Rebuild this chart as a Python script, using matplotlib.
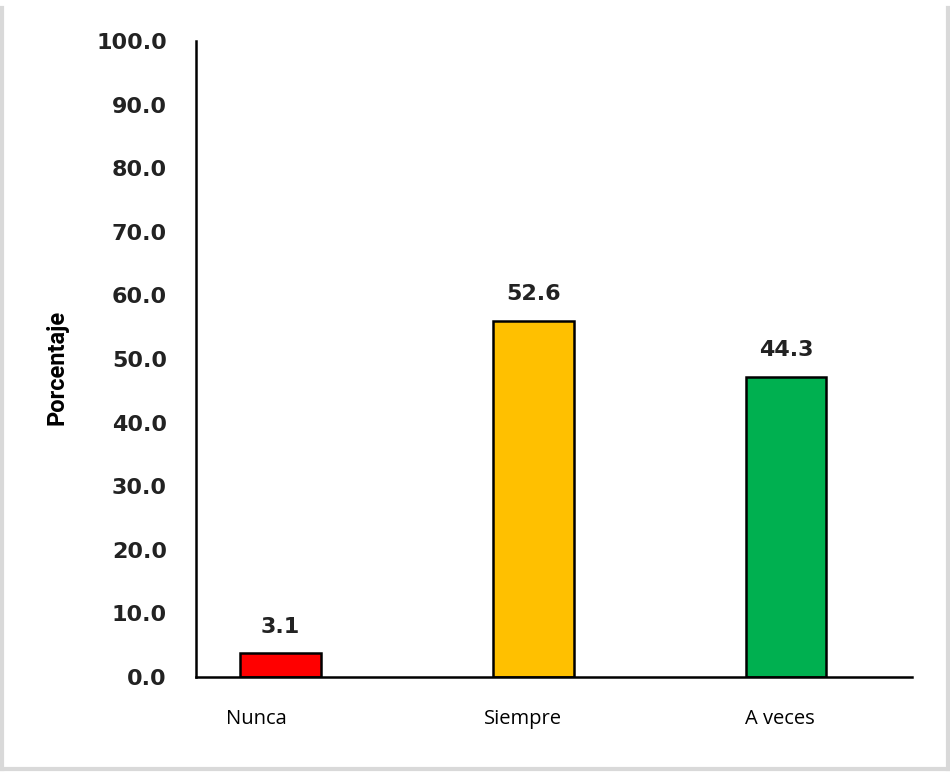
import matplotlib.pyplot as plt
from matplotlib.lines import Line2D

# datos del grafico
categorias = ['Nunca', 'Siempre', 'A veces']
porcentajes = ['3.1', '52.6', '44.3']        # etiquetas mostradas
alturas = [3.7, 56.0, 47.2]                  # altura de las barras
colores = ['#FF0000', '#FFC000', '#00B050']
marcas_y = [0, 10, 20, 30, 40, 50, 60, 70, 80, 90, 100]
desplaz_etiq = [-0.097, -0.04, -0.024]       # las etiquetas del eje x no estan centradas

fig = plt.figure(figsize=(9.5, 7.73), dpi=100)
ax = fig.add_axes([0.2063, 0.1242, 0.7537, 0.8228])

x = list(range(len(categorias)))
barras = ax.bar(x, alturas, width=0.32, color=colores, edgecolor='black', linewidth=1.8)

for b, txt in zip(barras, porcentajes):
    ax.annotate(txt, (b.get_x() + b.get_width() / 2, b.get_height()),
                xytext=(0, 19), textcoords='offset points', ha='center', va='center',
                fontsize=16, fontweight='bold', color='#222222')

ax.set_xlim(-0.335, 2.499)
ax.set_ylim(0, 100)
ax.set_yticks(marcas_y)
ax.set_yticklabels([f'{v:.1f}' for v in marcas_y], fontsize=16, fontweight='bold', color='#222222')
ax.set_xticks([i + d for i, d in zip(x, desplaz_etiq)])
ax.set_xticklabels(categorias, fontsize=14.5, family='Open Sans')
ax.tick_params(axis='y', length=0, pad=21)
ax.tick_params(axis='x', length=0, pad=23)

ax.set_ylabel('Porcentaje', fontsize=17, fontweight='bold', family='Roboto', labelpad=20, y=0.487)

for s in ['top', 'right']:
    ax.spines[s].set_visible(False)
ax.spines['left'].set_linewidth(1.8)
ax.spines['bottom'].set_linewidth(1.8)

# marco gris alrededor
gris = '#d9d9d9'
fig.add_artist(Line2D([0.002, 0.002], [0.005, 0.99], color=gris, lw=3, transform=fig.transFigure))
fig.add_artist(Line2D([0.002, 0.998], [0.005, 0.005], color=gris, lw=3, transform=fig.transFigure))
fig.add_artist(Line2D([0.998, 0.998], [0.005, 0.99], color=gris, lw=3, transform=fig.transFigure))

fig.savefig('out.png', dpi=100)
